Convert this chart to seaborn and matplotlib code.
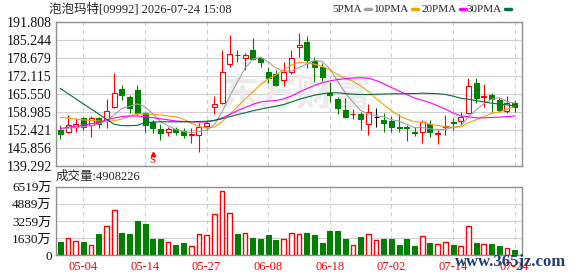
import matplotlib
matplotlib.use("Agg")
import matplotlib.pyplot as plt
from matplotlib.lines import Line2D
import seaborn as sns
import numpy as np
import pandas as pd

# daily K-line, 60 trading days (prices)
opens = [152.30, 151.69, 153.51, 156.55, 154.12, 156.55, 155.70, 160.57, 167.25, 164.46,
         166.89, 158.38, 155.09, 152.66, 151.45, 152.66, 151.93, 150.60, 150.47, 153.88,
         160.57, 162.02, 176.25, 179.77, 178.68, 181.60, 178.44, 173.33, 172.60, 170.53,
         173.33, 182.45, 184.27, 177.58, 175.40, 165.91, 163.48, 159.59, 158.00, 158.13,
         154.36, 157.16, 155.95, 155.70, 153.39, 153.39, 151.45, 151.45, 154.36, 150.84,
         153.27, 155.21, 155.70, 158.38, 169.44, 164.21, 165.07, 163.24, 159.35, 162.02]
closes = [150.72, 154.12, 154.49, 153.27, 156.55, 154.36, 159.35, 165.67, 165.07, 160.44,
          158.62, 154.12, 152.90, 151.08, 152.54, 151.69, 150.47, 150.84, 153.51, 154.73,
          161.66, 173.57, 179.89, 179.53, 179.65, 178.07, 177.22, 171.14, 168.71, 173.57,
          178.44, 183.30, 177.83, 175.40, 171.75, 165.07, 160.44, 157.16, 158.25, 156.31,
          158.74, 157.16, 154.97, 153.51, 153.15, 153.15, 151.08, 155.09, 151.45, 151.32,
          153.63, 154.97, 157.16, 168.35, 164.09, 164.58, 163.60, 159.59, 162.02, 160.81]
highs = [154.12, 157.77, 156.55, 157.16, 157.40, 157.16, 163.60, 172.96, 168.71, 165.07,
         168.71, 158.98, 155.95, 154.36, 153.51, 153.51, 152.90, 152.90, 154.73, 155.95,
         164.70, 181.47, 186.95, 181.47, 180.26, 185.73, 179.04, 175.40, 174.18, 177.22,
         181.47, 187.55, 186.58, 179.04, 176.61, 169.92, 164.46, 163.85, 159.83, 158.98,
         161.66, 160.44, 158.38, 157.53, 158.00, 154.12, 153.51, 155.95, 155.95, 152.30,
         157.77, 156.55, 158.74, 171.38, 171.14, 168.95, 165.67, 164.09, 164.70, 162.87]
lows = [149.02, 151.08, 151.69, 152.30, 149.87, 153.15, 152.90, 160.20, 163.24, 158.38,
        157.77, 151.69, 151.08, 148.65, 150.23, 150.47, 149.50, 147.43, 144.15, 152.30,
        158.00, 161.66, 175.40, 177.22, 174.18, 177.83, 175.40, 169.32, 168.35, 168.47,
        172.60, 179.04, 174.79, 169.92, 170.17, 162.63, 158.13, 156.80, 156.19, 152.30,
        150.47, 153.27, 151.45, 151.45, 151.69, 148.29, 150.23, 147.43, 149.87, 147.07,
        150.47, 152.30, 153.88, 158.00, 162.02, 160.81, 158.98, 158.74, 158.38, 158.98]
# volume in 万 shares
vols = [1264, 1615, 1330, 1264, 950, 2024, 2756, 4276, 2119, 2024,
        3260, 2974, 1549, 1549, 1264, 979, 1169, 855, 2024, 1929,
        3925, 6082, 3991, 2024, 2119, 1644, 1549, 1929, 1454, 1549,
        2091, 1996, 2119, 1929, 1169, 2309, 2309, 1549, 950, 1739,
        1996, 1454, 1549, 1549, 979, 1549, 884, 1805, 1169, 1074,
        1264, 979, 884, 2784, 1169, 1074, 1074, 884, 694, 491]

# moving-average values before the window fills (they depend on earlier days)
ma5_head = [152.6, 152.9, 153.2, 153.5]
ma10_head = [156.9, 156.6, 156.3, 156.0, 155.8, 155.6, 155.4, 155.7, 156.3]
ma20_head = [152.9, 153.3, 153.7, 154.1, 154.6, 155.2, 156.0, 156.7, 157.2, 157.4,
             157.4, 157.2, 156.8, 156.4, 156.0, 155.6, 155.4, 155.3, 155.2]
ma30_head = [167.5, 165.6, 163.7, 161.8, 160.0, 158.1, 156.2, 154.4, 153.9, 153.9,
             154.0, 155.0, 155.2, 155.3, 155.3, 155.3, 155.3, 155.3, 155.4, 155.5,
             155.8, 156.4, 157.2, 157.9, 158.6, 159.3, 159.9, 160.5, 161.0]

price_ticks = [139.292, 145.856, 152.421, 158.985, 165.550, 172.115, 178.679, 185.244, 191.808]
vol_ticks = [0, 1630, 3259, 4889, 6519]
vol_labels = ["0", "1630万", "3259万", "4889万", "6519万"]
date_idx = [3, 11, 19, 27, 35, 43, 51, 59]
date_labels = ["05-04", "05-14", "05-27", "06-08", "06-18", "07-02", "07-14", "07-24"]

sns.set_theme(style="white")
plt.rcParams["font.family"] = ["Liberation Serif", "Noto Sans CJK SC"]

RED = "#ff0000"
GREEN = "#008000"
MA_COLORS = ["#a0a0a0", "#f5a200", "#ff00ff", "#006f3c"]
GRID = "#d0d0d0"
EDGE = "#909090"

o = np.array(opens)
c = np.array(closes)
idx = np.arange(len(c))
up = c > o
down = c < o
cand_col = np.where(up, RED, np.where(down, GREEN, "black"))

s = pd.Series(closes)
mas = []
for n, head in [(5, ma5_head), (10, ma10_head), (20, ma20_head), (30, ma30_head)]:
    m = s.rolling(n).mean()
    m.iloc[:n - 1] = head
    mas.append(m.values)

W, H = 578, 276


def frac(x0, y0, x1, y1):
    return [x0 / W, 1 - y1 / H, (x1 - x0) / W, (y1 - y0) / H]


fig = plt.figure(figsize=(W / 100, H / 100), dpi=100)
fig.patch.set_facecolor("white")
ax = fig.add_axes(frac(56, 21.7, 522, 165.7))
axv = fig.add_axes(frac(56, 186.7, 522, 255.3))

# --- price panel
ax.set_axisbelow(True)
ax.grid(axis="y", color=GRID, lw=0.8, ls="-")
ax.grid(axis="x", color=GRID, lw=0.8, ls=(0, (4, 3)))
ax.text(222 / W, 1 - 95 / H, "东方财富", transform=fig.transFigure, fontsize=27,
        color="#ebebeb", family="Noto Sans CJK SC", fontweight="bold",
        va="center", ha="left", zorder=0.6)

ax.vlines(idx, lows, highs, colors=cand_col, lw=0.8, zorder=2)
face = np.where(up, "white", cand_col)
ax.bar(idx, np.abs(c - o), bottom=np.minimum(o, c), width=0.65, color=face,
       edgecolor=cand_col, linewidth=0.8, zorder=3)

for m, col in zip(mas, MA_COLORS):
    sns.lineplot(x=idx, y=m, ax=ax, color=col, lw=0.8, zorder=4, legend=False)

ax.text(12, 141.2, "S", color=RED, ha="center", va="center", fontsize=8, zorder=5)
ax.plot(12, 143.7, marker="^", ms=3, color=RED, zorder=5)

ax.set_xlim(-0.56, 59.96)
ax.set_ylim(price_ticks[0], price_ticks[-1])
ax.set_yticks(price_ticks)
ax.set_yticklabels([f"{t:.3f}" for t in price_ticks])
ax.set_xticks(date_idx)
ax.set_xticklabels([])
ax.tick_params(length=0, labelsize=10, pad=3, labelcolor="#101010")

# --- volume panel
vdf = pd.DataFrame({"i": idx, "v": vols, "rise": c >= o})
axv.set_axisbelow(True)
axv.grid(axis="y", color=GRID, lw=0.8, ls="-")
axv.grid(axis="x", color=GRID, lw=0.8, ls=(0, (4, 3)))
sns.barplot(data=vdf[~vdf.rise], x="i", y="v", native_scale=True, width=0.65,
            color=GREEN, saturation=1, errorbar=None, edgecolor=GREEN,
            linewidth=0.8, ax=axv)
rise = vdf[vdf.rise]
axv.bar(rise["i"], rise["v"], width=0.6, facecolor="white", edgecolor=RED,
        linewidth=1.0, zorder=3)
axv.set_xlim(-0.56, 59.96)
axv.set_ylim(0, vol_ticks[-1])
axv.set_yticks(vol_ticks)
axv.set_yticklabels(vol_labels)
axv.set_xticks(date_idx)
axv.set_xticklabels(date_labels, color=RED)
axv.set_xlabel("")
axv.set_ylabel("")
axv.tick_params(axis="y", length=0, labelsize=9.5, pad=3, labelcolor="#101010")
axv.tick_params(axis="x", length=0, labelsize=9, pad=4)

for a in (ax, axv):
    for sp in a.spines.values():
        sp.set_color(EDGE)
        sp.set_linewidth(1.0)

# --- header texts and legend
fig.text(49 / W, 1 - 9 / H, "泡泡玛特[09992] 2026-07-24 15:08", fontsize=9,
         va="center", ha="left")
fig.text(56 / W, 1 - 177 / H, "成交量:4908226", fontsize=9, va="center", ha="left")

legend_items = [("5PMA", 362, 365), ("10PMA", 409, 412), ("20PMA", 457, 460), ("30PMA", 502, 505)]
for (label, tx, dx), col in zip(legend_items, MA_COLORS):
    fig.text(tx / W, 1 - 9 / H, label, fontsize=8, va="center", ha="right")
    fig.add_artist(Line2D([dx / W, (dx + 6) / W], [1 - 9 / H, 1 - 9 / H],
                          transform=fig.transFigure, color=col, lw=2.5))

fig.text(455 / W, 1 - 262 / H, "www.365jz.com", fontsize=12, color="#1c3f73",
         fontweight="bold", va="center", ha="left")

fig.savefig("out.png", dpi=100)
